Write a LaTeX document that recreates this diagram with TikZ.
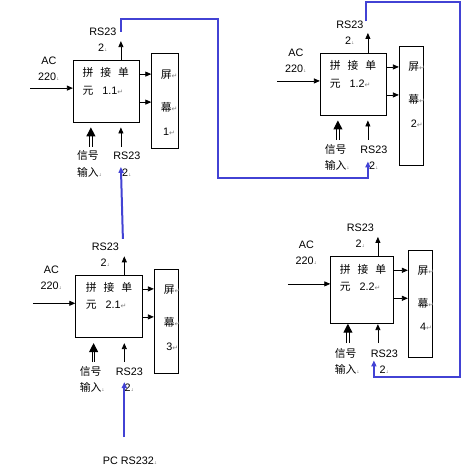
\documentclass[tikz,border=0pt]{standalone}
\usepackage{fontspec}
\setmainfont{Liberation Sans}
\newfontfamily\cjk{Noto Sans CJK SC}
\newfontfamily\markfont{DejaVu Sans}
\usetikzlibrary{arrows.meta}
\definecolor{linkblue}{RGB}{66,66,212}
\newcommand\pmark{{\markfont\color{gray}\fontsize{7}{7}\selectfont ↵}}
\newcommand\smark{\rlap{\pmark}}
\newcommand\lmark{{\markfont\color{gray}\fontsize{4}{4}\selectfont ↓}}

\begin{document}
\begin{tikzpicture}[x=1pt,y=-1pt,
    font=\fontsize{10.8}{13}\selectfont,
    unit/.style={draw, line width=0.8pt, inner sep=0pt, minimum width=66pt, minimum height=62pt},
    screen/.style={draw, line width=0.8pt, inner sep=0pt, minimum width=24pt},
    unittxt/.style={anchor=north west, inner sep=0pt, align=left},
    scrtxt/.style={anchor=north, inner sep=0pt, align=center},
    lbl/.style={anchor=north, inner sep=0pt, align=center},
    arr/.style={-{Triangle[width=5pt,length=6pt]}, line width=0.8pt},
    dbl/.style={-{Triangle[width=9pt,length=9pt]}, double, double distance=1.4pt, line width=1pt},
    link/.style={linkblue, line width=2pt},
    linkarr/.style={link, -{Triangle[width=5pt,length=6pt]}}
    ]
    \useasboundingbox (0,0) rectangle (463,468);

    % unit 1.1
    \node[unit] (u11) at (106.3,91.5) {};
    \node[unittxt] (u11t) at ([shift={(9.5,7.5)}]u11.north west) {{\cjk 拼\hspace{7pt}接\hspace{7pt}单}\\[4.3pt]{\cjk 元}\hspace{9pt}1.1\pmark};
    \node[screen, minimum width=26.6pt, minimum height=95pt] (s1) at (165,100.8) {};
    \node[scrtxt] (s1t) at ([shift={(1.2,16.6)}]s1.north) {{\cjk 屏}\smark\\[20pt]{\cjk 幕}\smark\\[10.8pt]1\smark};
    \path ([shift={(0,14)}]u11.north east) coordinate (e11a) ([shift={(0,42)}]u11.north east) coordinate (e11b);
    \draw[arr] (e11a) -- (e11a -| s1.west);
    \draw[arr] (e11b) -- (e11b -| s1.west);
    \draw[arr] ([shift={(-42.5,28)}]u11.north west) coordinate (a11) -- ([shift={(0,28)}]u11.north west);
    \node[lbl] at ([shift={(18.5,-31.6)}]a11) {AC\\[3pt]220\lmark};
    \draw[arr] ([shift={(48,0)}]u11.north west) -- ++(0,-19) coordinate (r11);
    \node[lbl] at ([shift={(-18,-13.6)}]r11) {RS23\\[3pt]2\lmark};
    \draw[dbl] ([shift={(18,24)}]u11.south west) coordinate (q11) -- ([shift={(18,4.5)}]u11.south west);
    \draw[arr] ([shift={(48,24)}]u11.south west) coordinate (p11) -- ([shift={(48,4.5)}]u11.south west);
    \node[unittxt] at ([shift={(-14,3.6)}]q11) {{\cjk 信号}\\[3.3pt]{\cjk 输入}\lmark};
    \node[lbl] at ([shift={(6,5.2)}]p11) {RS23\\[3.3pt]2\lmark};

    % unit 1.2
    \node[unit, minimum width=66.4pt, minimum height=61.7pt] (u12) at (353.5,84.2) {};
    \node[unittxt] (u12t) at ([shift={(9.7,7.5)}]u12.north west) {{\cjk 拼\hspace{7pt}接\hspace{7pt}单}\\[4.3pt]{\cjk 元}\hspace{9pt}1.2\pmark};
    \node[screen, minimum height=119pt] (s2) at (411.3,105.5) {};
    \node[scrtxt] (s2t) at ([shift={(2.5,16.6)}]s2.north) {{\cjk 屏}\smark\\[20pt]{\cjk 幕}\smark\\[10.8pt]2\smark};
    \path ([shift={(0,14)}]u12.north east) coordinate (e12a) ([shift={(0,42)}]u12.north east) coordinate (e12b);
    \draw[arr] (e12a) -- (e12a -| s2.west);
    \draw[arr] (e12b) -- (e12b -| s2.west);
    \draw[arr] ([shift={(-42.5,28)}]u12.north west) coordinate (a12) -- ([shift={(0,28)}]u12.north west);
    \node[lbl] at ([shift={(18.5,-32.2)}]a12) {AC\\[3pt]220\lmark};
    \draw[arr] ([shift={(48,0)}]u12.north west) -- ++(0,-20) coordinate (r12);
    \node[lbl] at ([shift={(-18,-12.2)}]r12) {RS23\\[3pt]2\lmark};
    \draw[dbl] ([shift={(18,24.3)}]u12.south west) coordinate (q12) -- ([shift={(18,5)}]u12.south west);
    \draw[arr] ([shift={(48,24.3)}]u12.south west) coordinate (p12) -- ([shift={(48,5)}]u12.south west);
    \node[unittxt] at ([shift={(-13.3,4.3)}]q12) {{\cjk 信号}\\[3.3pt]{\cjk 输入}\lmark};
    \node[lbl] at ([shift={(6,5.9)}]p12) {RS23\\[3.3pt]2\lmark};

    % unit 2.1
    \node[unit, minimum width=67pt] (u21) at (109.2,306.3) {};
    \node[unittxt] (u21t) at ([shift={(10.3,7.5)}]u21.north west) {{\cjk 拼\hspace{7pt}接\hspace{7pt}单}\\[4.3pt]{\cjk 元}\hspace{9pt}2.1\pmark};
    \node[screen, minimum height=104pt] (s3) at (166.3,321.3) {};
    \node[scrtxt] (s3t) at ([shift={(3,15.6)}]s3.north) {{\cjk 屏}\smark\\[20pt]{\cjk 幕}\smark\\[10.8pt]3\smark};
    \path ([shift={(0,14)}]u21.north east) coordinate (e21a) ([shift={(0,42)}]u21.north east) coordinate (e21b);
    \draw[arr] (e21a) -- (e21a -| s3.west);
    \draw[arr] (e21b) -- (e21b -| s3.west);
    \draw[arr] ([shift={(-42.5,28.4)}]u21.north west) coordinate (a21) -- ([shift={(0,28.4)}]u21.north west);
    \node[lbl] at ([shift={(18.5,-37.6)}]a21) {AC\\[3pt]220\lmark};
    \draw[arr] ([shift={(49,0)}]u21.north west) -- ++(0,-18.6) coordinate (r21);
    \node[lbl] at ([shift={(-19,-13.8)}]r21) {RS23\\[3pt]2\lmark};
    \draw[dbl] ([shift={(18.3,24.4)}]u21.south west) coordinate (q21) -- ([shift={(18.3,5.4)}]u21.south west);
    \draw[arr] ([shift={(49,24.4)}]u21.south west) coordinate (p21) -- ([shift={(49,5.4)}]u21.south west);
    \node[unittxt] at ([shift={(-14,3.9)}]q21) {{\cjk 信号}\\[3.3pt]{\cjk 输入}\lmark};
    \node[lbl] at ([shift={(5,5.5)}]p21) {RS23\\[3.3pt]2\lmark};

    % unit 2.2
    \node[unit, minimum width=62.6pt, minimum height=66.6pt] (u22) at (362,290) {};
    \node[unittxt] (u22t) at ([shift={(9.3,7.8)}]u22.north west) {{\cjk 拼\hspace{7pt}接\hspace{7pt}单}\\[4.3pt]{\cjk 元}\hspace{9pt}2.2\pmark};
    \node[screen, minimum width=24.4pt, minimum height=106.6pt] (s4) at (420.5,304) {};
    \node[scrtxt] (s4t) at ([shift={(2.5,15)}]s4.north) {{\cjk 屏}\smark\\[20pt]{\cjk 幕}\smark\\[10.8pt]4\smark};
    \path ([shift={(0,14)}]u22.north east) coordinate (e22a) ([shift={(0,42)}]u22.north east) coordinate (e22b);
    \draw[arr] (e22a) -- (e22a -| s4.west);
    \draw[arr] (e22b) -- (e22b -| s4.west);
    \draw[arr] ([shift={(-42.5,27.6)}]u22.north west) coordinate (a22) -- ([shift={(0,27.6)}]u22.north west);
    \node[lbl] at ([shift={(18.5,-43.2)}]a22) {AC\\[3pt]220\lmark};
    \draw[arr] ([shift={(47.6,0)}]u22.north west) -- ++(0,-19.4) coordinate (r22);
    \node[lbl] at ([shift={(-17.6,-12.9)}]r22) {RS23\\[3pt]2\lmark};
    \draw[dbl] ([shift={(17.6,19.4)}]u22.south west) coordinate (q22) -- (u22.south west -| q22);
    \draw[arr] ([shift={(47.6,19.4)}]u22.south west) coordinate (p22) -- ([shift={(0,-19)}]p22);
    \node[unittxt] at ([shift={(-13.3,5.2)}]q22) {{\cjk 信号}\\[3.3pt]{\cjk 输入}\lmark};
    \node[lbl] at ([shift={(6.4,6.8)}]p22) {RS23\\[3.3pt]2\lmark};

    % blue RS232 links
    \coordinate (k1) at (218.3,19);
    \coordinate (k2) at (460,1.7);
    \draw[linkarr] ([shift={(0,-9.5)}]r11) |- (k1) |- ([shift={(0,38.4)}]p12) -- ([shift={(0,21.7)}]p12);
    \draw[linkarr] ([shift={(-1.4,-17.4)}]r21) -- ([shift={(0,20)}]p11);
    \draw[linkarr] ([shift={(-1.6,-11.6)}]r12) |- (k2) |- ([shift={(-4,34)}]p22) -- ([shift={(-4,17.3)}]p22);
    \node[lbl] (pc) at (130,457) {PC RS232\lmark};
    \draw[linkarr] ([shift={(0,75)}]p21) -- ([shift={(0,20)}]p21);
\end{tikzpicture}
\end{document}
